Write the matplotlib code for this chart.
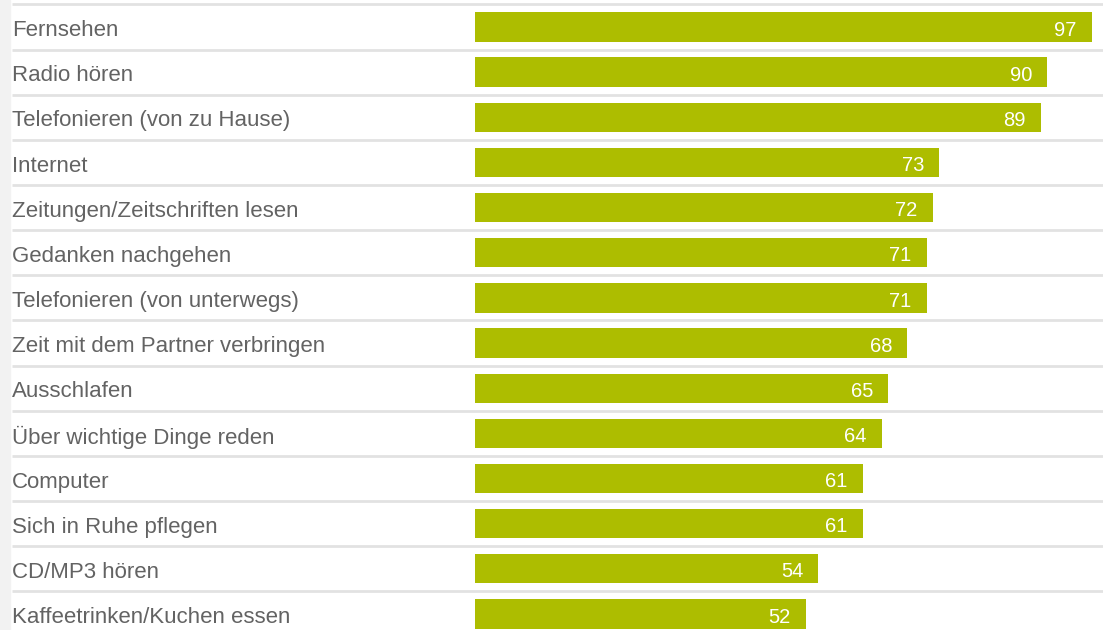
import matplotlib.pyplot as plt
from matplotlib.patches import Rectangle

plt.rcParams["font.family"] = ["Liberation Sans", "DejaVu Sans"]

categories = [
    "Fernsehen",
    "Radio hören",
    "Telefonieren (von zu Hause)",
    "Internet",
    "Zeitungen/Zeitschriften lesen",
    "Gedanken nachgehen",
    "Telefonieren (von unterwegs)",
    "Zeit mit dem Partner verbringen",
    "Ausschlafen",
    "Über wichtige Dinge reden",
    "Computer",
    "Sich in Ruhe pflegen",
    "CD/MP3 hören",
    "Kaffeetrinken/Kuchen essen",
]
values = [97, 90, 89, 73, 72, 71, 71, 68, 65, 64, 61, 61, 54, 52]

BAR_COLOR = "#adbd00"
TEXT_COLOR = "#636363"
GRID_COLOR = "#e2e2e2"

W, H = 1103, 630
PX_PER_UNIT = 6.36
BAR_X0 = 475      # pixel where value 0 sits
LABEL_X = 12      # pixel of category labels
ROW0 = 27         # pixel centre of first row
PITCH = 45.15     # row pitch in pixels

fig = plt.figure(figsize=(W / 100, H / 100), dpi=100)
ax = fig.add_axes([0, 0, 1, 1])
ax.set_xlim(-BAR_X0 / PX_PER_UNIT, (W - BAR_X0) / PX_PER_UNIT)
ax.set_ylim((H - ROW0) / PITCH, -ROW0 / PITCH)
ax.axis("off")

ys = list(range(len(categories)))
x_label = (LABEL_X - BAR_X0) / PX_PER_UNIT

# row separators
for y in ys:
    ax.plot([x_label, ax.get_xlim()[1]], [y - 0.5, y - 0.5],
            color=GRID_COLOR, lw=2, solid_capstyle="butt", zorder=1)

ax.barh(ys, values, height=0.65, color=BAR_COLOR, zorder=2)

for y, cat, v in zip(ys, categories, values):
    ax.text(x_label, y + 0.08, cat, ha="left", va="center",
            fontsize=16, color=TEXT_COLOR)
    ax.text(v - 2.4, y + 0.07, str(v), ha="right", va="center",
            fontsize=14.5, color="white", zorder=3)

# light strip on the left edge
fig.patches.append(Rectangle((0, 0), 10 / W, 1, transform=fig.transFigure,
                             color="#f2f2f2", zorder=0))

fig.savefig("out.png", dpi=100)
